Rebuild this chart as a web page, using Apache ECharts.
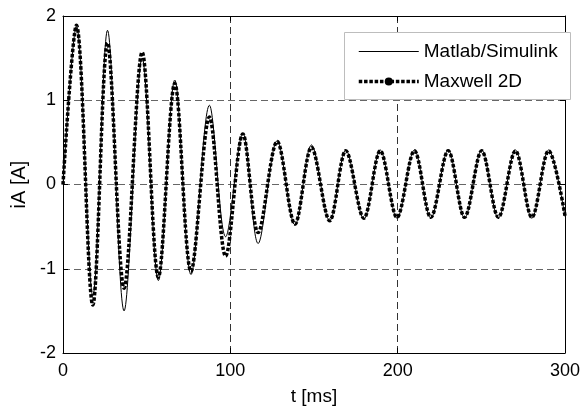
<!DOCTYPE html>
<html>
<head>
<meta charset="utf-8">
<script src="https://cdn.jsdelivr.net/npm/echarts@6/dist/echarts.min.js"></script>
<style>
  html, body { margin: 0; padding: 0; background: #fff; }
  #chart { width: 583px; height: 414px; }
</style>
</head>
<body>
<div id="chart"></div>
<script>
// Phase current iA [A] versus time t [ms]: successive extremes of the waveform
const timeMs = [0, 8.0, 17.8, 26.6, 36.5, 47.3, 57.0, 66.8, 76.5, 87.5, 97.2, 107.5, 116.6,
  128.0, 138.6, 148.5, 159.4, 169.0, 179.8, 189.6, 199.6, 210.0, 219.8, 230.2, 240.0,
  250.2, 260.2, 270.4, 280.2, 290.2, 300.0];
const simulinkA = [0, 1.88, -1.32, 1.83, -1.50, 1.50, -1.14, 1.24, -1.07, 0.94, -0.62, 0.61, -0.70,
  0.52, -0.48, 0.47, -0.43, 0.41, -0.41, 0.41, -0.40, 0.41, -0.40, 0.41, -0.40,
  0.41, -0.40, 0.41, -0.40, 0.41, -0.38];
const maxwellA = [0, 1.89, -1.43, 1.68, -1.23, 1.57, -1.10, 1.20, -1.03, 0.80, -0.85, 0.60, -0.57,
  0.51, -0.47, 0.44, -0.43, 0.40, -0.40, 0.40, -0.39, 0.40, -0.39, 0.40, -0.39,
  0.40, -0.39, 0.40, -0.39, 0.40, -0.37];
const xTicks = { min: 0, max: 300, step: 100 };
const yTicks = { min: -2, max: 2, step: 1 };
const seriesNames = ['Matlab/Simulink', 'Maxwell 2D'];

const pairs = vals => timeMs.map((t, i) => [t, vals[i]]);

const font = 'Arial, "Liberation Sans", Helvetica, sans-serif';
const gridDash = [7, 4];
const dotDash = [3.5, 1.8];

const chart = echarts.init(document.getElementById('chart'), null, { renderer: 'canvas' });

const baseX = {
  type: 'value', min: xTicks.min, max: xTicks.max, interval: xTicks.step,
  axisLine: { show: true, onZero: false, lineStyle: { color: '#000', width: 1 } },
  axisTick: { show: true, inside: true, length: 5, lineStyle: { color: '#000' } }
};
const baseY = {
  type: 'value', min: yTicks.min, max: yTicks.max, interval: yTicks.step,
  axisLine: { show: true, onZero: false, lineStyle: { color: '#000', width: 1 } },
  axisTick: { show: true, inside: true, length: 5, lineStyle: { color: '#000' } }
};

chart.setOption({
  animation: false,
  backgroundColor: '#fff',
  textStyle: { fontFamily: font },
  grid: { left: 63, right: 14, top: 16, bottom: 61, containLabel: false },
  xAxis: [
    Object.assign({}, baseX, {
      position: 'bottom',
      name: 't [ms]', nameLocation: 'middle', nameGap: 34,
      nameTextStyle: { color: '#000', fontSize: 19, fontFamily: font },
      axisLabel: { color: '#000', fontSize: 18, fontFamily: font, margin: 9 },
      splitLine: { show: true, lineStyle: { color: '#333', type: gridDash, width: 1 } }
    }),
    Object.assign({}, baseX, {
      position: 'top', axisLabel: { show: false }, splitLine: { show: false }
    })
  ],
  yAxis: [
    Object.assign({}, baseY, {
      position: 'left',
      name: 'iA [A]', nameLocation: 'middle', nameGap: 34,
      nameTextStyle: { color: '#000', fontSize: 20, fontFamily: font },
      axisLabel: { color: '#000', fontSize: 18, fontFamily: font, margin: 7 },
      splitLine: { show: true, lineStyle: { color: '#666', type: gridDash, width: 1 } }
    }),
    Object.assign({}, baseY, {
      position: 'right', axisLabel: { show: false }, splitLine: { show: false }
    })
  ],
  legend: {
    orient: 'vertical',
    left: 357, top: 42,
    padding: 0,
    itemWidth: 60, itemHeight: 10, itemGap: 11,
    textStyle: { color: '#000', fontSize: 19, fontFamily: font },
    data: [
      { name: seriesNames[0],
        itemStyle: { color: 'rgba(0,0,0,0)', borderWidth: 0 },
        lineStyle: { color: '#000', width: 1, type: 'solid' } },
      { name: seriesNames[1],
        itemStyle: { color: '#000', borderWidth: 0 },
        lineStyle: { color: '#000', width: 3.5, type: dotDash } }
    ],
    z: 6
  },
  graphic: [{
    type: 'rect', z: 5,
    shape: { x: 344.5, y: 32.5, width: 226, height: 67 },
    style: { fill: '#fff', stroke: '#bdbdbd', lineWidth: 1 }
  }],
  series: [
    {
      name: seriesNames[0], type: 'line', data: pairs(simulinkA),
      smooth: 0.34, symbol: 'none', showSymbol: false,
      lineStyle: { color: '#000', width: 1 },
      itemStyle: { color: '#000' }, z: 2
    },
    {
      name: seriesNames[1], type: 'line', data: pairs(maxwellA),
      smooth: 0.34, symbol: 'circle', showSymbol: false,
      lineStyle: { color: '#000', width: 3.5, type: dotDash },
      itemStyle: { color: '#000' }, z: 3
    }
  ]
});
</script>
</body>
</html>
